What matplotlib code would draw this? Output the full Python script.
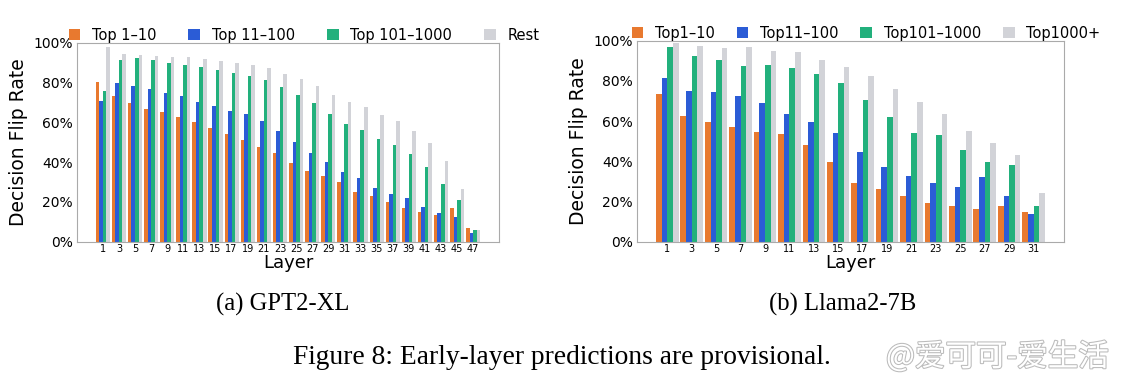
import matplotlib.pyplot as plt
import matplotlib.patheffects as pe
import numpy as np

# GPT2-XL (layers 1, 3, ..., 47)
gpt_layers = list(range(1, 48, 2))
gpt_top10 = [80.4, 73.2, 69.5, 66.7, 65.0, 62.8, 60.0, 57.1, 54.3, 51.3, 47.7, 44.7,
             39.7, 35.5, 33.0, 29.8, 25.1, 22.8, 19.9, 16.9, 14.9, 13.4, 17.1, 7.0]
gpt_top100 = [70.9, 79.9, 78.4, 76.7, 74.7, 73.2, 70.4, 68.2, 65.8, 64.0, 60.6, 55.8,
              50.3, 44.6, 40.2, 35.2, 32.2, 27.1, 24.0, 21.9, 17.6, 14.6, 12.2, 4.5]
gpt_top1000 = [75.7, 91.5, 92.1, 91.5, 89.6, 88.8, 87.6, 86.3, 84.6, 83.1, 81.1, 77.9,
               73.7, 69.5, 64.3, 59.3, 56.3, 51.6, 48.6, 43.9, 37.4, 28.8, 21.1, 5.9]
gpt_rest = [97.7, 94.3, 93.6, 93.3, 93.0, 92.6, 91.6, 91.0, 89.6, 88.8, 87.1, 84.3,
            81.7, 78.2, 73.7, 70.0, 67.8, 63.7, 60.6, 55.8, 49.7, 40.5, 26.3, 5.9]

# Llama2-7B (layers 1, 3, ..., 31)
llama_layers = list(range(1, 32, 2))
llama_top10 = [73.5, 62.5, 59.7, 56.9, 54.4, 53.4, 47.9, 39.8,
               29.2, 26.2, 22.7, 19.1, 17.6, 16.4, 17.6, 14.8]
llama_top100 = [81.6, 75.1, 74.5, 72.5, 69.0, 63.7, 59.4, 54.2,
                44.6, 37.3, 32.8, 29.4, 27.4, 32.2, 22.7, 13.8]
llama_top1000 = [96.8, 92.5, 90.2, 87.4, 87.9, 86.2, 83.3, 78.8,
                 70.5, 62.2, 54.2, 53.1, 45.8, 39.6, 38.1, 17.7]
llama_rest = [98.7, 97.2, 96.2, 96.8, 95.0, 94.4, 90.4, 86.9,
              82.6, 76.1, 69.3, 63.5, 55.2, 49.1, 43.3, 24.4]

gpt_labels = ['Top 1\u201310', 'Top 11\u2013100', 'Top 101\u20131000', 'Rest']
llama_labels = ['Top1\u201310', 'Top11\u2013100', 'Top101\u20131000', 'Top1000+']
colors = ['#E8792F', '#2B5CD6', '#22B07C', '#D2D3D8']

fig = plt.figure(figsize=(11.29, 3.82), dpi=100)
ax1 = fig.add_axes([0.0682, 0.3673, 0.3738, 0.521])
ax2 = fig.add_axes([0.564, 0.3673, 0.3785, 0.526])


def draw(ax, layers, series, labels, width, xpad, legend_anchor, colspace):
    x = np.arange(len(layers))
    for i, (vals, lab, col) in enumerate(zip(series, labels, colors)):
        ax.bar(x + (i - 1.5) * width, vals, width, color=col, label=lab)
    ax.set_xticks(x)
    ax.set_xticklabels(layers, fontsize=7)
    ax.set_xlim(-xpad, len(layers) - 1 + xpad)
    ax.set_ylim(0, 100)
    ax.set_yticks(range(0, 101, 20))
    ax.set_yticklabels([f'{v}%' for v in range(0, 101, 20)], fontsize=10)
    ax.tick_params(length=0, pad=3)
    ax.tick_params(axis='x', pad=2)
    for s in ax.spines.values():
        s.set_color('#AAAAAA')
        s.set_linewidth(0.8)
    ax.set_ylabel('Decision Flip Rate', fontsize=13.5, labelpad=4)
    ax.set_xlabel('Layer', fontsize=13, labelpad=0)
    ax.legend(loc='lower left', bbox_to_anchor=legend_anchor, ncol=4, frameon=False,
              fontsize=10.5, handlelength=0.8, handleheight=0.8, handletextpad=0.8,
              columnspacing=colspace, borderaxespad=0, borderpad=0)


draw(ax1, gpt_layers, [gpt_top10, gpt_top100, gpt_top1000, gpt_rest], gpt_labels,
     0.22, 1.6, (-0.02, 1.0), 2.2)
draw(ax2, llama_layers, [llama_top10, llama_top100, llama_top1000, llama_rest], llama_labels,
     0.23, 1.25, (-0.012, 1.0), 1.5)

serif = ['Liberation Serif', 'DejaVu Serif']
fig.text(283 / 1129, 1 - 304 / 382, '(a) GPT2-XL', ha='center', va='center',
         fontsize=17.7, family=serif)
fig.text(843 / 1129, 1 - 304 / 382, '(b) Llama2-7B', ha='center', va='center',
         fontsize=17.7, family=serif)
fig.text(562 / 1129, 1 - 358 / 382, 'Figure 8: Early-layer predictions are provisional.',
         ha='center', va='center', fontsize=19.8, family=serif)
fig.text(886 / 1129, 1 - 357 / 382, '@爱可可-爱生活', ha='left', va='center',
         fontsize=22, color='white', family=['Noto Sans CJK SC', 'DejaVu Sans'],
         path_effects=[pe.withStroke(linewidth=1.5, foreground='#BBBBBB')])

fig.savefig('out.png', dpi=100)
